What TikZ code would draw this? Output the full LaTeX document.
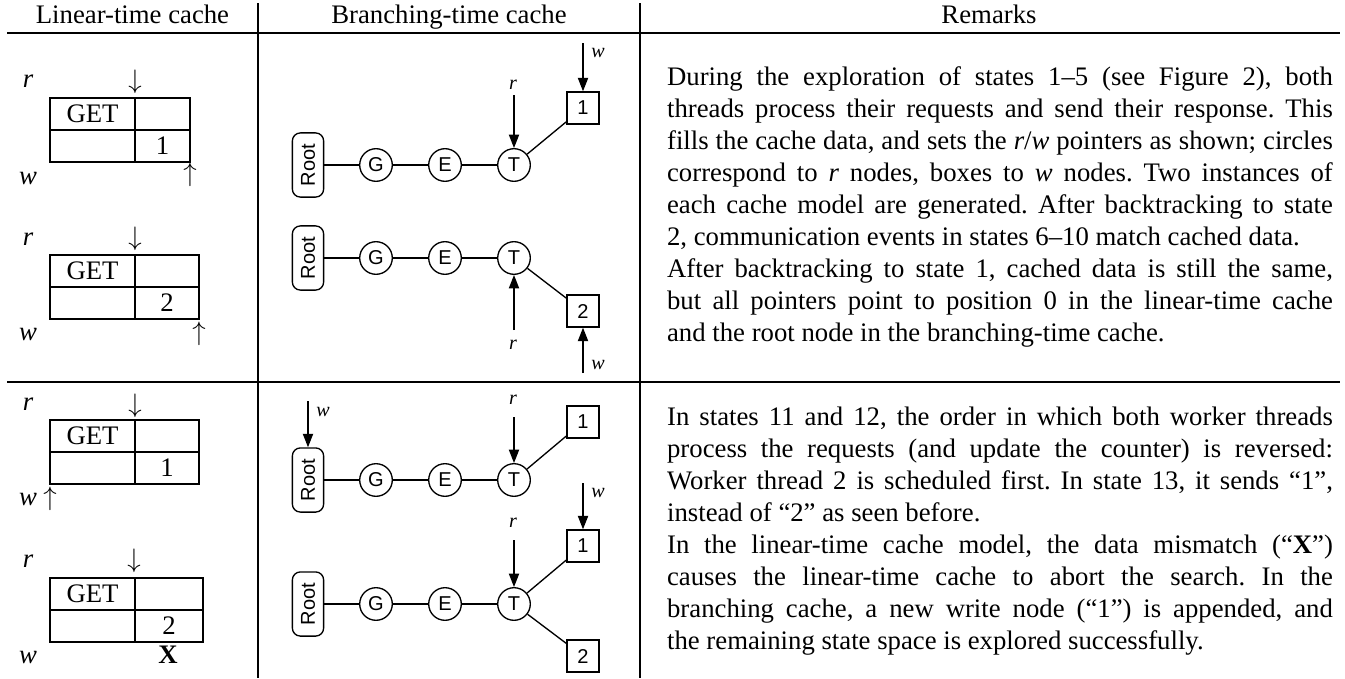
\documentclass[tikz,border=0pt]{standalone}
\usepackage{fontspec}
\setmainfont{Liberation Serif}
\setsansfont{Liberation Sans}
\usepackage{tikz}
\usetikzlibrary{arrows.meta, calc, positioning}
\frenchspacing

\begin{document}
\begin{tikzpicture}[
                x=0.374pt, y=-0.374pt,
                rule/.style={line width=0.55pt},
                cell/.style={line width=0.65pt},
                label/.style={font=\fontsize{10}{12}\selectfont},
                node/.style={draw, line width=0.5pt, inner sep=0pt, font=\sffamily\fontsize{7.5}{8}\selectfont},
                rootnode/.style={node, rounded corners=3pt, rotate=90, minimum width=24pt, minimum height=11.7pt},
                readnode/.style={node, circle, minimum size=12.2pt},
                writenode/.style={node, rectangle, minimum size=12pt},
                edge/.style={line width=0.5pt},
                ptr/.style={line width=0.5pt, -{Triangle[length=5pt, width=3.8pt]}},
                ptrlabel/.style={font=\itshape\fontsize{7.5}{9}\selectfont, inner sep=0pt},
                remark/.style={text width=249pt, align=justify, inner sep=0pt, font=\fontsize{10}{12}\selectfont}
            ]

            \useasboundingbox (0,0) rectangle (1345,678);

            % Table rules
            \draw[rule] (7,33) -- (1340,33);
            \draw[rule] (7,382) -- (1340,382);
            \draw[rule] (258,3) -- (258,678);
            \draw[rule] (640,3) -- (640,678);

            % Headers
            \node[label, anchor=base] (head-1) at (132.5,24) {Linear-time cache};
            \node[label, anchor=base] (head-2) at (449,24) {Branching-time cache};
            \node[label, anchor=base] (head-3) at (989,24) {Remarks};

            % Linear-time caches
            \foreach \n/\y/\xr/\v in {1/98/190/1, 2/255/199/2, 3/420/199/1, 4/578/203/2}
            {
            \draw[cell] (50,\y) rectangle (\xr,\y+64);
            \draw[cell] (135,\y) -- (135,\y+64);
            \draw[cell] (50,\y+32) -- (\xr,\y+32);
            \node[label] (get-\n) at (92.5,\y+16) {GET};
            \node[label] (val-\n) at ({(135+\xr)/2},\y+48) {\v};
            }

            % Linear-time pointers
            \node[label, anchor=base] (r-1) at (28,87) {\textit{r}};
            \node[label] (rd-1) at (135,81.5) {$\downarrow$};
            \node[label, anchor=base] (w-1) at (28,184) {\textit{w}};
            \node[label] (wu-1) at (190,175) {$\uparrow$};

            \node[label, anchor=base] (r-2) at (28,245) {\textit{r}};
            \node[label] (rd-2) at (135,239) {$\downarrow$};
            \node[label, anchor=base] (w-2) at (28,340) {\textit{w}};
            \node[label] (wu-2) at (199,334) {$\uparrow$};

            \node[label, anchor=base] (r-3) at (28,410) {\textit{r}};
            \node[label] (rd-3) at (135,406) {$\downarrow$};
            \node[label, anchor=base] (w-3) at (28,505) {\textit{w}};
            \node[label] (wu-3) at (50,499) {$\uparrow$};

            \node[label, anchor=base] (r-4) at (28,567) {\textit{r}};
            \node[label] (rd-4) at (134,561) {$\downarrow$};
            \node[label, anchor=base] (w-4) at (28,663) {\textit{w}};
            \node[label, anchor=base] (x-4) at (168,663) {\textbf{X}};

            % Branching-time caches
            \foreach \n/\y in {1/165, 2/258, 3/480, 4/604}
            {
            \node[rootnode] (R-\n) at (308,\y) {Root};
            \node[readnode] (G-\n) at (376,\y) {G};
            \node[readnode] (E-\n) at (445,\y) {E};
            \node[readnode] (T-\n) at (514,\y) {T};
            \draw[edge] (R-\n) -- (G-\n) -- (E-\n) -- (T-\n);
            }

            % Write nodes
            \node[writenode] (W-1) at (583,108) {1};
            \node[writenode] (W-2) at (583,311) {2};
            \node[writenode] (W-3) at (583,422) {1};
            \node[writenode] (W-4a) at (583,546) {1};
            \node[writenode] (W-4b) at (583,656) {2};

            \draw[edge] (T-1) -- (W-1);
            \draw[edge] (T-2) -- (W-2);
            \draw[edge] (T-3) -- (W-3);
            \draw[edge] (T-4) -- (W-4a);
            \draw[edge] (T-4) -- (W-4b);

            % Branching-time pointers
            \coordinate (wp-1) at (583,43);
            \coordinate (rp-1) at (514,95);
            \coordinate (rp-2) at (514,330);
            \coordinate (wp-2) at (583,373);
            \coordinate (wp-3) at (308,401);
            \coordinate (rp-3) at (514,417);
            \coordinate (wp-4) at (583,483);
            \coordinate (rp-4) at (514,540);

            \draw[ptr] (wp-1) -- (W-1);
            \draw[ptr] (rp-1) -- (T-1);
            \draw[ptr] (rp-2) -- (T-2);
            \draw[ptr] (wp-2) -- (W-2);
            \draw[ptr] (wp-3) -- (R-3);
            \draw[ptr] (rp-3) -- (T-3);
            \draw[ptr] (wp-4) -- (W-4a);
            \draw[ptr] (rp-4) -- (T-4);

            \node[ptrlabel] (wl-1) at (598,53) {w};
            \node[ptrlabel] (rl-1) at (513,85) {r};
            \node[ptrlabel] (rl-2) at (513,345) {r};
            \node[ptrlabel] (wl-2) at (598,365) {w};
            \node[ptrlabel] (wl-3) at (323,412) {w};
            \node[ptrlabel] (rl-3) at (513,400) {r};
            \node[ptrlabel] (wl-4) at (598,493) {w};
            \node[ptrlabel] (rl-4) at (513,523) {r};

            % Remarks
            \node[remark] (remark-1) at (1000,207) {During the exploration of states 1--5 (see Figure 2), both\linebreak
            threads process their requests and send their response. This\linebreak
            fills the cache data, and sets the \textit{r}/\textit{w} pointers as shown; circles\linebreak
            correspond to \textit{r} nodes, boxes to \textit{w} nodes. Two instances of\linebreak
            each cache model are generated. After backtracking to state\linebreak
            2, communication events in states 6--10 match cached data.\\
            After backtracking to state 1, cached data is still the same,\linebreak
            but all pointers point to position 0 in the linear-time cache\linebreak
            and the root node in the branching-time cache.};

            \node[remark] (remark-2) at (1000,531) {In states 11 and 12, the order in which both worker threads\linebreak
            process the requests (and update the counter) is reversed:\linebreak
            Worker thread 2 is scheduled first. In state 13, it sends ``1'',\linebreak
            instead of ``2'' as seen before.\\
            In the linear-time cache model, the data mismatch (``\textbf{X}'')\linebreak
            causes the linear-time cache to abort the search. In the\linebreak
            branching cache, a new write node (``1'') is appended, and\linebreak
            the remaining state space is explored successfully.};

        \end{tikzpicture}
\end{document}
